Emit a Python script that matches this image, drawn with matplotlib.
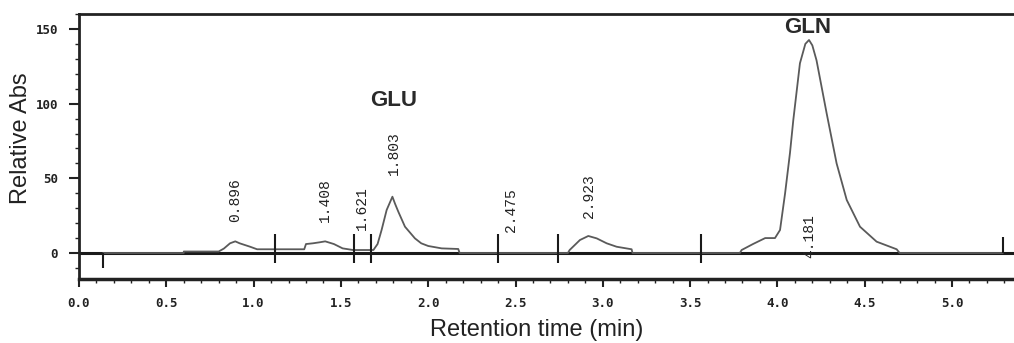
import matplotlib
matplotlib.use("Agg")
import matplotlib.pyplot as plt
from matplotlib.ticker import MultipleLocator, FormatStrFormatter

# ---- data ----
time_min = [0.14, 0.60, 0.60, 0.80, 0.83, 0.865, 0.895, 0.92, 0.98, 1.02, 1.12, 1.29,
            1.30, 1.34, 1.38, 1.41, 1.46, 1.51, 1.57, 1.686, 1.71, 1.733, 1.762, 1.795,
            1.81, 1.829, 1.867, 1.924, 1.96, 2.0, 2.077, 2.172, 2.18, 2.80, 2.81, 2.869,
            2.917, 2.965, 3.022, 3.079, 3.165, 3.17, 3.785, 3.795, 3.86, 3.93, 3.986,
            4.015, 4.044, 4.072, 4.091, 4.129, 4.16, 4.181, 4.20, 4.224, 4.282, 4.339,
            4.397, 4.473, 4.568, 4.683, 4.70, 5.29]
rel_abs = [0, 0, 1, 1, 3, 6.5, 7.8, 6.5, 4.2, 2.5, 2.5, 2.5,
           6, 6.5, 7.2, 7.8, 6, 3.1, 2, 2, 6, 15.4, 28.8, 37.7,
           33, 27.6, 17.6, 9.8, 6.5, 4.7, 3.1, 2.7, 0, 0, 2, 8.7,
           11.4, 9.8, 6.5, 4.2, 2.5, 0, 0, 2, 6, 10, 10,
           15.4, 40, 67, 89, 127, 140, 142.6, 139, 129, 93.5, 60,
           35.5, 17.6, 7.6, 2.5, 0, 0]

# integration markers (vertical bars through baseline)
marker_times = [1.12, 1.575, 1.675, 2.40, 2.745, 3.56]
start_marker = 0.14
end_marker = 5.29

# peak retention-time labels
peak_labels = ["0.896", "1.408", "1.621", "1.803", "2.475", "2.923", "4.181"]
peak_label_x = [0.896, 1.408, 1.621, 1.803, 2.475, 2.923, 4.181]
peak_label_y = [20.7, 20.7, 15.4, 52.2, 14.0, 23.4, -3.3]

# compound names
compounds = ["GLU", "GLN"]
compound_x = [1.80, 4.175]
compound_y = [102.4, 151.0]

x_ticks = [0.0, 0.5, 1.0, 1.5, 2.0, 2.5, 3.0, 3.5, 4.0, 4.5, 5.0]
y_ticks = [0, 50, 100, 150]

# ---- figure ----
fig = plt.figure(figsize=(10.14, 3.43), dpi=100)
ax = fig.add_axes([79/1014, 64/343, (1014-79)/1014, (279-14)/343])
ax.set_xlim(0, 5.355)
ax.set_ylim(-17.4, 160)

# baseline
ax.axhline(0, color="#1a1a1a", lw=2.2, zorder=2)
# trace
ax.plot(time_min, rel_abs, color="#5a5a5a", lw=1.3, zorder=3)
# markers
ax.vlines(marker_times, -7, 13, color="#1a1a1a", lw=1.5, zorder=4)
ax.vlines([start_marker], -10, 0, color="#1a1a1a", lw=1.5, zorder=4)
ax.vlines([end_marker], 0, 11, color="#1a1a1a", lw=1.5, zorder=4)

for lab, x, y in zip(peak_labels, peak_label_x, peak_label_y):
    ax.text(x, y, lab, rotation=90, ha="center", va="bottom",
            family="Liberation Mono", fontsize=10.5, color="#222222", zorder=5)

for lab, x, y in zip(compounds, compound_x, compound_y):
    ax.text(x, y, lab, ha="center", va="center", family="Liberation Sans",
            fontweight="bold", fontsize=16, color="#2a2a2a", zorder=5)

# spines
ax.spines["right"].set_visible(False)
for s in ["top", "left"]:
    ax.spines[s].set_linewidth(2.0)
    ax.spines[s].set_color("#222222")
ax.spines["bottom"].set_linewidth(2.5)
ax.spines["bottom"].set_color("#222222")

ax.set_xticks(x_ticks)
ax.set_yticks(y_ticks)
ax.xaxis.set_minor_locator(MultipleLocator(0.1))
ax.yaxis.set_minor_locator(MultipleLocator(10))
ax.xaxis.set_major_formatter(FormatStrFormatter("%.1f"))
ax.tick_params(axis="x", which="major", direction="out", length=6, width=1.5,
               pad=7, colors="#222222", labelsize=9)
ax.tick_params(axis="x", which="minor", direction="out", length=3, width=1.0, colors="#222222")
ax.tick_params(axis="y", which="major", direction="out", length=7, width=1.5,
               pad=8, colors="#222222", labelsize=9)
ax.tick_params(axis="y", which="minor", direction="out", length=3, width=1.0, colors="#222222")
for lbl in ax.get_xticklabels() + ax.get_yticklabels():
    lbl.set_family("DejaVu Sans Mono")
    lbl.set_fontweight("bold")

fig.text(21/1014, 1 - 138/343, "Relative Abs", rotation=90, ha="center", va="center",
         family="Liberation Sans", fontsize=17, color="#222222")
fig.text(537/1014, 1 - 330/343, "Retention time (min)", ha="center", va="center",
         family="Liberation Sans", fontsize=17, color="#222222")

fig.savefig("out.png", dpi=100, facecolor="white")
